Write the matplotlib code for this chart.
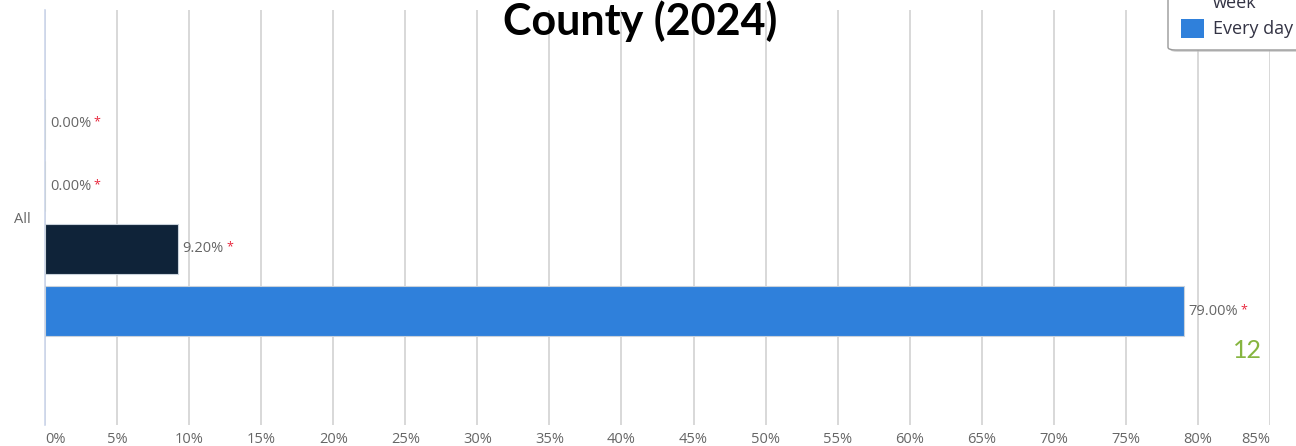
import numpy as np
import matplotlib
matplotlib.use("Agg")
import matplotlib.pyplot as plt
from matplotlib.patches import FancyBboxPatch, Rectangle

# bar series for the single "All" category (top to bottom)
series_names = ["Not at all", "Less than once a week", "At least once a\nweek", "Every day"]
values = [0.0, 0.0, 9.20, 79.00]
colors = ["#7cb5ec", "#434348", "#0f2339", "#2f80db"]
category = "All"
x_ticks = list(range(0, 90, 5))

W, H = 1296, 446
fig = plt.figure(figsize=(W / 100, H / 100), dpi=100)

def fx(px):
    return px / W

def fy(py):
    return 1 - py / H

left, right, top, bottom = 45, 1270, 10, 425
ax = fig.add_axes([fx(left), fy(bottom), fx(right - left), (bottom - top) / H])

slot = 62.5
half = (bottom - top) / 2 / slot
ypos = np.arange(len(values)) - (len(values) - 1) / 2

ax.barh(ypos, values, height=0.8, color=colors, edgecolor="#c9d2db", linewidth=0.8, zorder=3)
ax.set_ylim(half, -half)
ax.set_xlim(0, 85)

# data labels with red asterisk
for y, v in zip(ypos, values):
    lab = ax.annotate(f"{v:.2f}%", xy=(v, y), xytext=(3.5, 0), textcoords="offset points",
                      va="center", ha="left", fontsize=10.5, color="#666666",
                      family="Open Sans", zorder=5)
    ax.annotate("*", xy=(1, 0.62), xycoords=lab, xytext=(2, 0), textcoords="offset points",
                va="center", ha="left", fontsize=9, color="#e8263c", family="Open Sans")

# grid and axes
ax.set_xticks(x_ticks)
ax.set_xticklabels([f"{t}%" for t in x_ticks], fontsize=10.5, color="#666666", family="Open Sans")
tl = ax.get_xticklabels()
tl[0].set_ha("left")
tl[-1].set_ha("right")
ax.tick_params(axis="x", length=0, pad=5)
ax.set_yticks([0])
ax.set_yticklabels([category], fontsize=10.5, color="#666666", family="Open Sans")
ax.tick_params(axis="y", length=0, pad=10)
ax.grid(axis="x", color="#d6d6d6", linewidth=1.3, zorder=0)
for s in ["top", "right", "bottom"]:
    ax.spines[s].set_visible(False)
ax.spines["left"].set_color("#ccd6eb")
ax.spines["left"].set_linewidth(1.2)

# title (only the last line shows)
fig.text(fx(640), fy(35), "County (2024)", ha="center", va="baseline",
         fontsize=31, fontweight="bold", family="Lato", color="black")

# legend box running off the top edge
shadow = FancyBboxPatch((fx(1170), fy(52)), fx(160), fy(-30) - fy(52),
                        boxstyle="round,pad=0,rounding_size=0.006",
                        transform=fig.transFigure, facecolor="#bbbbbb", edgecolor="none",
                        alpha=0.6, zorder=1)
box = FancyBboxPatch((fx(1168), fy(50)), fx(160), fy(-30) - fy(50),
                     boxstyle="round,pad=0,rounding_size=0.006",
                     transform=fig.transFigure, facecolor="white", edgecolor="#999999",
                     linewidth=1, zorder=2)
fig.patches.extend([shadow, box])
fig.patches.append(Rectangle((fx(1181), fy(38)), fx(23), fy(19) - fy(38),
                             transform=fig.transFigure, facecolor=colors[3], zorder=3))
fig.text(fx(1213), fy(29), series_names[3], ha="left", va="center",
         fontsize=13, color="#333344", family="Open Sans", zorder=4)
fig.text(fx(1213), fy(3), "week", ha="left", va="center",
         fontsize=13, color="#333344", family="Open Sans", zorder=4)

# page number
fig.text(fx(1247), fy(351), "12", ha="center", va="center", fontsize=18,
         color="#86b540", family="Lato")

fig.savefig("out.png", dpi=100)
